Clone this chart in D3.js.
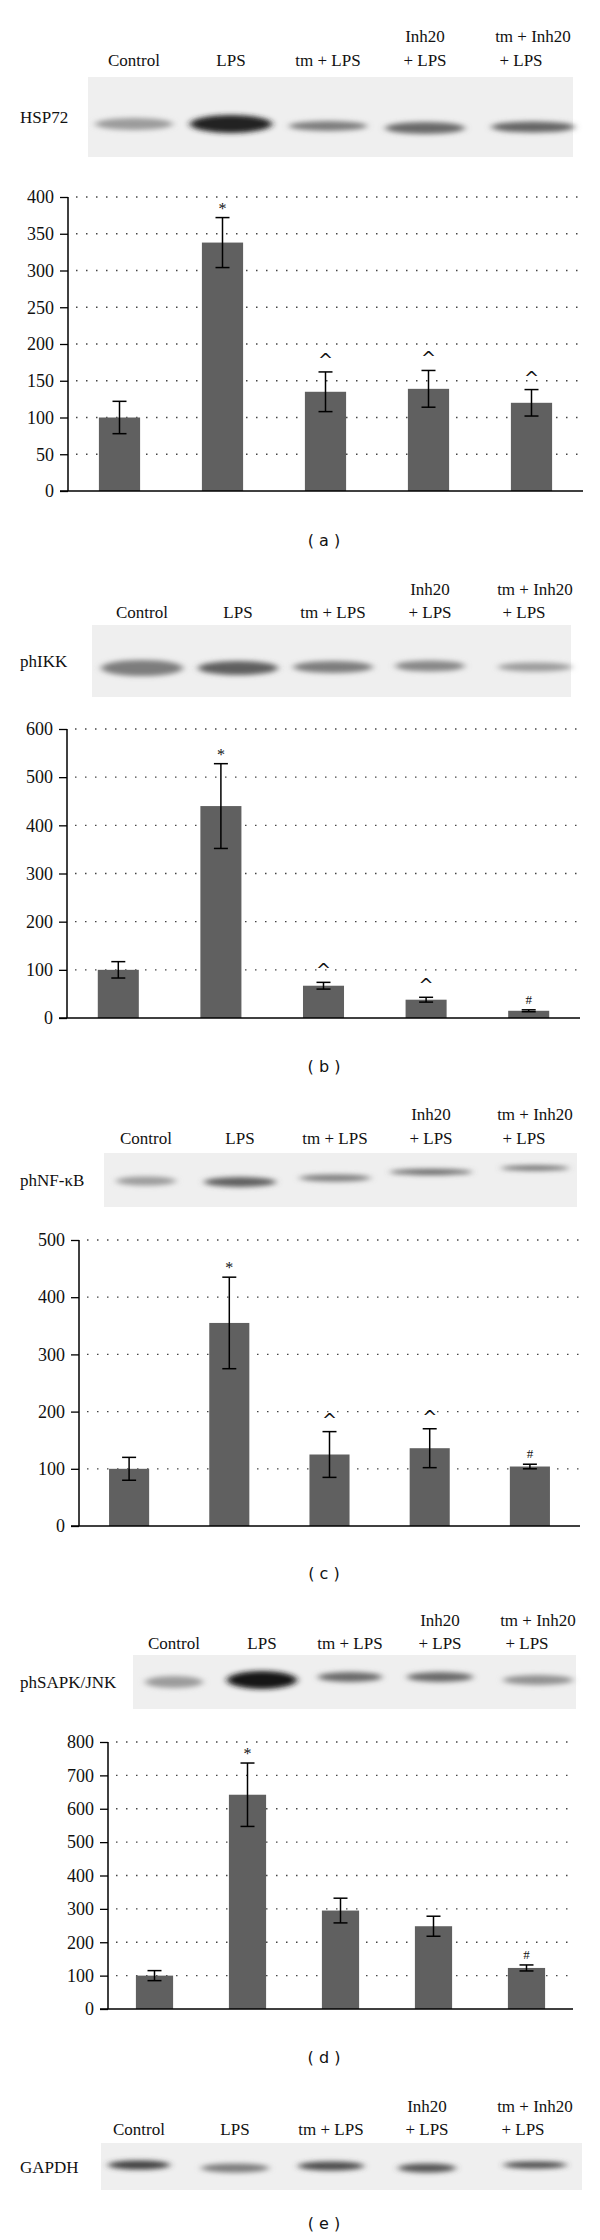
<!DOCTYPE html>
<html><head><meta charset="utf-8">
<script src="https://cdn.jsdelivr.net/npm/d3@7"></script>
<style>body{margin:0;background:#fff} .serif{font-family:"Liberation Serif","DejaVu Serif",serif} .sans{font-family:"DejaVu Sans",sans-serif}</style>
</head><body>
<svg id="c" width="600" height="2240"></svg>
<script>
const categories = ["Control","LPS","tm + LPS","Inh20 + LPS","tm + Inh20 + LPS"];
const hsp72Values = [100,338,135,139,120];
const hsp72Errors = [22,34,27,25,18];
const hsp72Marks = ["","*","^","^","^"];
const hsp72Ticks = [0,50,100,150,200,250,300,350,400];
const ikkValues = [100,440,67,38,15];
const ikkErrors = [17,88,7,5,2];
const ikkMarks = ["","*","^","^","#"];
const ikkTicks = [0,100,200,300,400,500,600];
const nfkbValues = [100,355,125,136,104];
const nfkbErrors = [20,80,40,34,4];
const nfkbMarks = ["","*","^","^","#"];
const nfkbTicks = [0,100,200,300,400,500];
const jnkValues = [100,642,295,248,123];
const jnkErrors = [15,95,37,30,9];
const jnkMarks = ["","*","","","#"];
const jnkTicks = [0,100,200,300,400,500,600,700,800];
// blot band darkness per lane (0-1)
const hsp72Bands = [0.35,0.95,0.5,0.6,0.62];
const ikkBands = [0.5,0.65,0.5,0.45,0.35];
const nfkbBands = [0.35,0.65,0.5,0.6,0.6];
const jnkBands = [0.35,1.0,0.6,0.6,0.4];
const gapdhBands = [0.8,0.5,0.75,0.7,0.75];

const svg = d3.select("#c");
const defs = svg.append("defs");
defs.append("filter").attr("id","blur").attr("x","-30%").attr("y","-100%").attr("width","160%").attr("height","300%")
  .append("feGaussianBlur").attr("stdDeviation","3.5 2.5");

const panels = [
 {name:"HSP72", cap:"( a )", capY:540, row1:36, row2:60, labCx:[134,231,328,425,533], labCx2:521,
  blot:[88,77,573,157], blotY:[124,124,126,128,127], bandW:[78,82,78,80,84], bands:hsp72Bands, bandH:[12,18,10,12,11],
  chart:{x0:68,x1:583,top:197,bot:491,max:400,vals:hsp72Values,errs:hsp72Errors,marks:hsp72Marks,ticks:hsp72Ticks}},
 {name:"phIKK", cap:"( b )", capY:1066, row1:589, row2:612, labCx:[142,238,333,430,535], labCx2:524,
  blot:[92,625,571,697], blotY:[668,668,667,666,667], bandW:[82,80,80,70,74], bands:ikkBands, bandH:[16,14,12,11,9],
  chart:{x0:67,x1:580,top:729,bot:1018,max:600,vals:ikkValues,errs:ikkErrors,marks:ikkMarks,ticks:ikkTicks}},
 {name:"phNF-κB", cap:"( c )", capY:1573, row1:1114, row2:1138, labCx:[146,240,335,431,535], labCx2:524,
  blot:[104,1153,577,1207], blotY:[1181,1182,1178,1172,1168], bandW:[60,72,72,82,68], bands:nfkbBands, bandH:[9,10,7,6,5],
  chart:{x0:79,x1:580,top:1240,bot:1526,max:500,vals:nfkbValues,errs:nfkbErrors,marks:nfkbMarks,ticks:nfkbTicks}},
 {name:"phSAPK/JNK", cap:"( d )", capY:2057, row1:1620, row2:1643, labCx:[174,262,350,440,538], labCx2:527,
  blot:[133,1655,576,1709], blotY:[1682,1680,1677,1677,1680], bandW:[58,70,64,66,70], bands:jnkBands, bandH:[12,18,10,10,10],
  chart:{x0:108,x1:573,top:1742,bot:2009,max:800,vals:jnkValues,errs:jnkErrors,marks:jnkMarks,ticks:jnkTicks}},
 {name:"GAPDH", cap:"( e )", capY:2223, row1:2106, row2:2129, labCx:[139,235,331,427,535], labCx2:523,
  blot:[101,2143,582,2190], blotY:[2165,2168,2166,2168,2165], bandW:[62,68,66,58,64], bands:gapdhBands, bandH:[9,9,9,9,7]}
];

panels.forEach(p=>{
  const g = svg.append("g");
  const lab = g.append("g").attr("class","serif").attr("font-size",17).attr("fill","#111").attr("text-anchor","middle");
  lab.append("text").attr("x",p.labCx[0]).attr("y",p.row2+6).text("Control");
  lab.append("text").attr("x",p.labCx[1]).attr("y",p.row2+6).text("LPS");
  lab.append("text").attr("x",p.labCx[2]).attr("y",p.row2+6).text("tm + LPS");
  lab.append("text").attr("x",p.labCx[3]).attr("y",p.row1+6).text("Inh20");
  lab.append("text").attr("x",p.labCx[3]).attr("y",p.row2+6).text("+ LPS");
  lab.append("text").attr("x",p.labCx[4]).attr("y",p.row1+6).text("tm + Inh20");
  lab.append("text").attr("x",p.labCx2).attr("y",p.row2+6).text("+ LPS");
  const [bx0,by0,bx1,by1] = p.blot;
  g.append("rect").attr("x",bx0).attr("y",by0).attr("width",bx1-bx0).attr("height",by1-by0).attr("fill","#efefef");
  g.append("text").attr("class","serif").attr("x",20).attr("y",(by0+by1)/2+6).attr("font-size",17).attr("fill","#111").text(p.name);
  const bg = g.append("g").attr("filter","url(#blur)");
  p.bands.forEach((d,i)=>{
    const v = Math.round(225 - d*200);
    bg.append("ellipse").attr("cx",p.labCx[i]).attr("cy",p.blotY[i]).attr("rx",p.bandW[i]/2).attr("ry",p.bandH[i]/2)
      .attr("fill",`rgb(${v},${v},${v})`);
  });
  g.append("text").attr("class","sans").attr("x",324).attr("y",p.capY+6).attr("text-anchor","middle").attr("font-size",16).attr("fill","#111").text(p.cap);
  if(!p.chart) return;
  const c = p.chart;
  const x = d3.scaleBand().domain(categories).range([c.x0,c.x1]).paddingInner(0.6).paddingOuter(0.3);
  const y = d3.scaleLinear().domain([0,c.max]).range([c.bot,c.top]);
  g.append("g").selectAll("line").data(c.ticks.filter(t=>t>0)).join("line")
    .attr("x1",c.x0+8).attr("x2",c.x1).attr("y1",d=>y(d)).attr("y2",d=>y(d))
    .attr("stroke","#444").attr("stroke-width",1.3).attr("stroke-dasharray","1.5,8.5");
  g.append("g").selectAll("rect").data(c.vals).join("rect")
    .attr("x",(d,i)=>x(categories[i])).attr("width",x.bandwidth())
    .attr("y",d=>y(d)).attr("height",d=>c.bot-y(d)).attr("fill","#606060");
  const ax = g.append("g").attr("transform",`translate(${c.x0},0)`).call(d3.axisLeft(y).tickValues(c.ticks).tickSize(8).tickPadding(6));
  ax.attr("font-family",null).attr("font-size",null);
  ax.select(".domain").attr("stroke","#000").attr("stroke-width",1.5).attr("d",`M0,${c.bot}V${c.top}`);
  ax.selectAll(".tick line").attr("stroke","#000").attr("stroke-width",1.3);
  ax.selectAll(".tick text").attr("class","serif").style("font-size","18px").attr("fill","#111");
  g.append("line").attr("x1",c.x0-8).attr("x2",c.x1).attr("y1",c.bot).attr("y2",c.bot).attr("stroke","#000").attr("stroke-width",1.5);
  const eb = g.append("g").attr("stroke","#000").attr("stroke-width",1.5);
  c.vals.forEach((v,i)=>{
    const cx = x(categories[i]) + x.bandwidth()/2, e = c.errs[i];
    eb.append("line").attr("x1",cx).attr("x2",cx).attr("y1",y(v-e)).attr("y2",y(v+e));
    eb.append("line").attr("x1",cx-7).attr("x2",cx+7).attr("y1",y(v-e)).attr("y2",y(v-e));
    eb.append("line").attr("x1",cx-7).attr("x2",cx+7).attr("y1",y(v+e)).attr("y2",y(v+e));
    if(c.marks[i]){
      const m = c.marks[i];
      g.append("text").attr("class",m==="^"?"sans":"serif").attr("x",cx).attr("y",y(v+e)-(m==="*"?4:6)).attr("text-anchor","middle")
        .style("font-size",(m==="#"?13:m==="^"?18:16)+"px").attr("fill","#111").text(m);
    }
  });
});
</script>
</body></html>
